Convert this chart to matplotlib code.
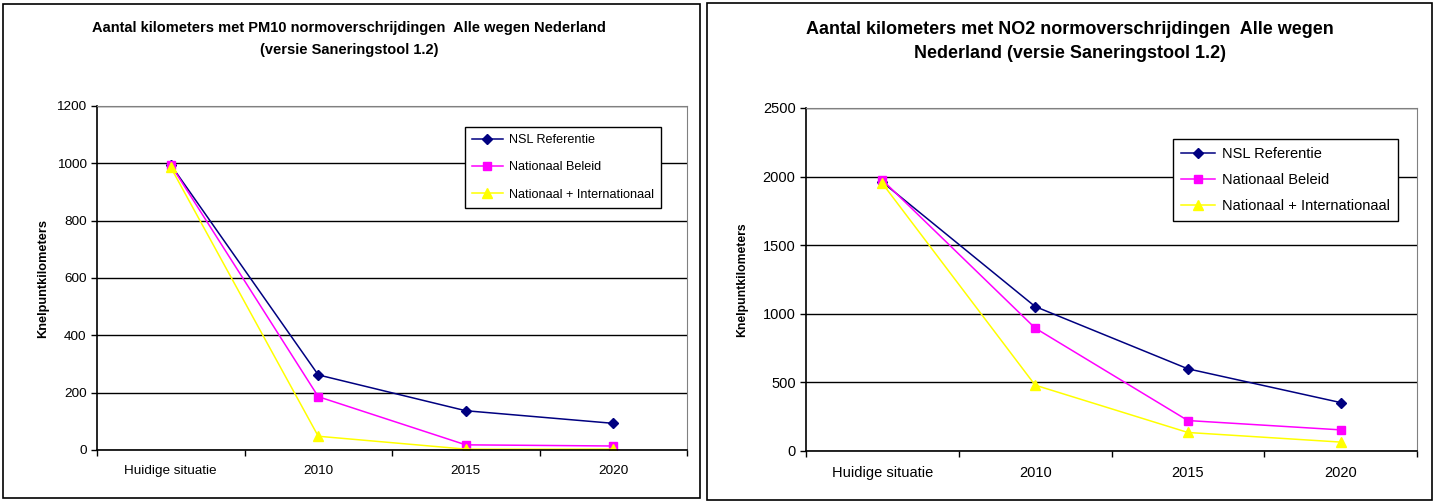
import matplotlib
matplotlib.use("Agg")
import matplotlib.pyplot as plt
from matplotlib.patches import Rectangle

plt.rcParams['font.family'] = ['Liberation Sans', 'DejaVu Sans']

categories = ['Huidige situatie', '2010', '2015', '2020']
series_names = ['NSL Referentie', 'Nationaal Beleid', 'Nationaal + Internationaal']

# PM10 chart (left)
pm10_nsl = [995, 262, 137, 93]
pm10_beleid = [995, 186, 18, 14]
pm10_internationaal = [986, 48, 3, 3]
pm10_yticks = [0, 200, 400, 600, 800, 1000, 1200]

# NO2 chart (right)
no2_nsl = [1960, 1053, 599, 353]
no2_beleid = [1975, 896, 222, 154]
no2_internationaal = [1950, 480, 135, 65]
no2_yticks = [0, 500, 1000, 1500, 2000, 2500]

colors = ['#000080', '#FF00FF', '#FFFF00']
markers = ['D', 's', '^']
msizes = [5.5, 6, 7]

W, H = 1435, 503
fig = plt.figure(figsize=(W / 100, H / 100), dpi=100)

# chart frames
fig.patches.append(Rectangle((3 / W, 1 - 498 / H), 697 / W, 494 / H, transform=fig.transFigure,
                             fill=False, edgecolor='black', linewidth=1.2))
fig.patches.append(Rectangle((707 / W, 1 - 500 / H), 725 / W, 497 / H, transform=fig.transFigure,
                             fill=False, edgecolor='black', linewidth=1.2))


def draw_panel(rect, series, yticks, tick_fs, label_fs, leg_fs, leg_anchor, ylabel_x,
               spacing, handle):
    ax = fig.add_axes(rect)
    x = range(len(categories))
    for vals, name, c, m, ms in zip(series, series_names, colors, markers, msizes):
        ax.plot(x, vals, color=c, marker=m, markersize=ms, linewidth=1.1, label=name)
    ax.set_xlim(-0.5, len(categories) - 0.5)
    ax.set_ylim(yticks[0], yticks[-1])
    ax.set_yticks(yticks)
    ax.set_yticklabels([str(t) for t in yticks], fontsize=tick_fs)
    ax.set_xticks([i - 0.5 for i in range(len(categories) + 1)])
    ax.set_xticklabels([])
    ax.set_xticks(list(x), minor=True)
    ax.set_xticklabels(categories, minor=True, fontsize=tick_fs)
    ax.tick_params(axis='x', which='minor', length=0, pad=11)
    ax.tick_params(axis='both', which='major', length=4, width=1, direction='out', color='black')
    ax.grid(axis='y', color='black', linewidth=1)
    ax.set_axisbelow(True)
    for side in ['top', 'right']:
        ax.spines[side].set_color('#808080')
    for side in ['left', 'bottom']:
        ax.spines[side].set_color('black')
        ax.spines[side].set_linewidth(1.2)
    ax.set_ylabel('Knelpuntkilometers', fontsize=label_fs, fontweight='bold')
    ax.yaxis.set_label_coords(ylabel_x, 0.5)
    leg = ax.legend(loc='upper left', bbox_to_anchor=leg_anchor, fontsize=leg_fs, frameon=True,
                    fancybox=False, framealpha=1, edgecolor='black', handlelength=handle,
                    labelspacing=spacing, borderpad=0.55, handletextpad=0.5, borderaxespad=0)
    leg.get_frame().set_linewidth(1)
    return ax


draw_panel([97 / W, 1 - 450 / H, 590 / W, 344 / H],
           [pm10_nsl, pm10_beleid, pm10_internationaal], pm10_yticks, 9.7, 9.2, 9.1,
           (0.6237, 0.939), -0.081, 1.22, 2.45)
draw_panel([806 / W, 1 - 451 / H, 611 / W, 343 / H],
           [no2_nsl, no2_beleid, no2_internationaal], no2_yticks, 10.5, 8.8, 10.5,
           (0.6007, 0.9096), -0.095, 0.82, 2.3)

fig.text(349 / W, 1 - 28 / H, 'Aantal kilometers met PM10 normoverschrijdingen  Alle wegen Nederland',
         ha='center', va='center', fontsize=10.5, fontweight='bold')
fig.text(349 / W, 1 - 50 / H, '(versie Saneringstool 1.2)',
         ha='center', va='center', fontsize=10.5, fontweight='bold')
fig.text(1070 / W, 1 - 30 / H, 'Aantal kilometers met NO2 normoverschrijdingen  Alle wegen',
         ha='center', va='center', fontsize=13, fontweight='bold')
fig.text(1070 / W, 1 - 54 / H, 'Nederland (versie Saneringstool 1.2)',
         ha='center', va='center', fontsize=13, fontweight='bold')

fig.savefig('out.png', dpi=100)
